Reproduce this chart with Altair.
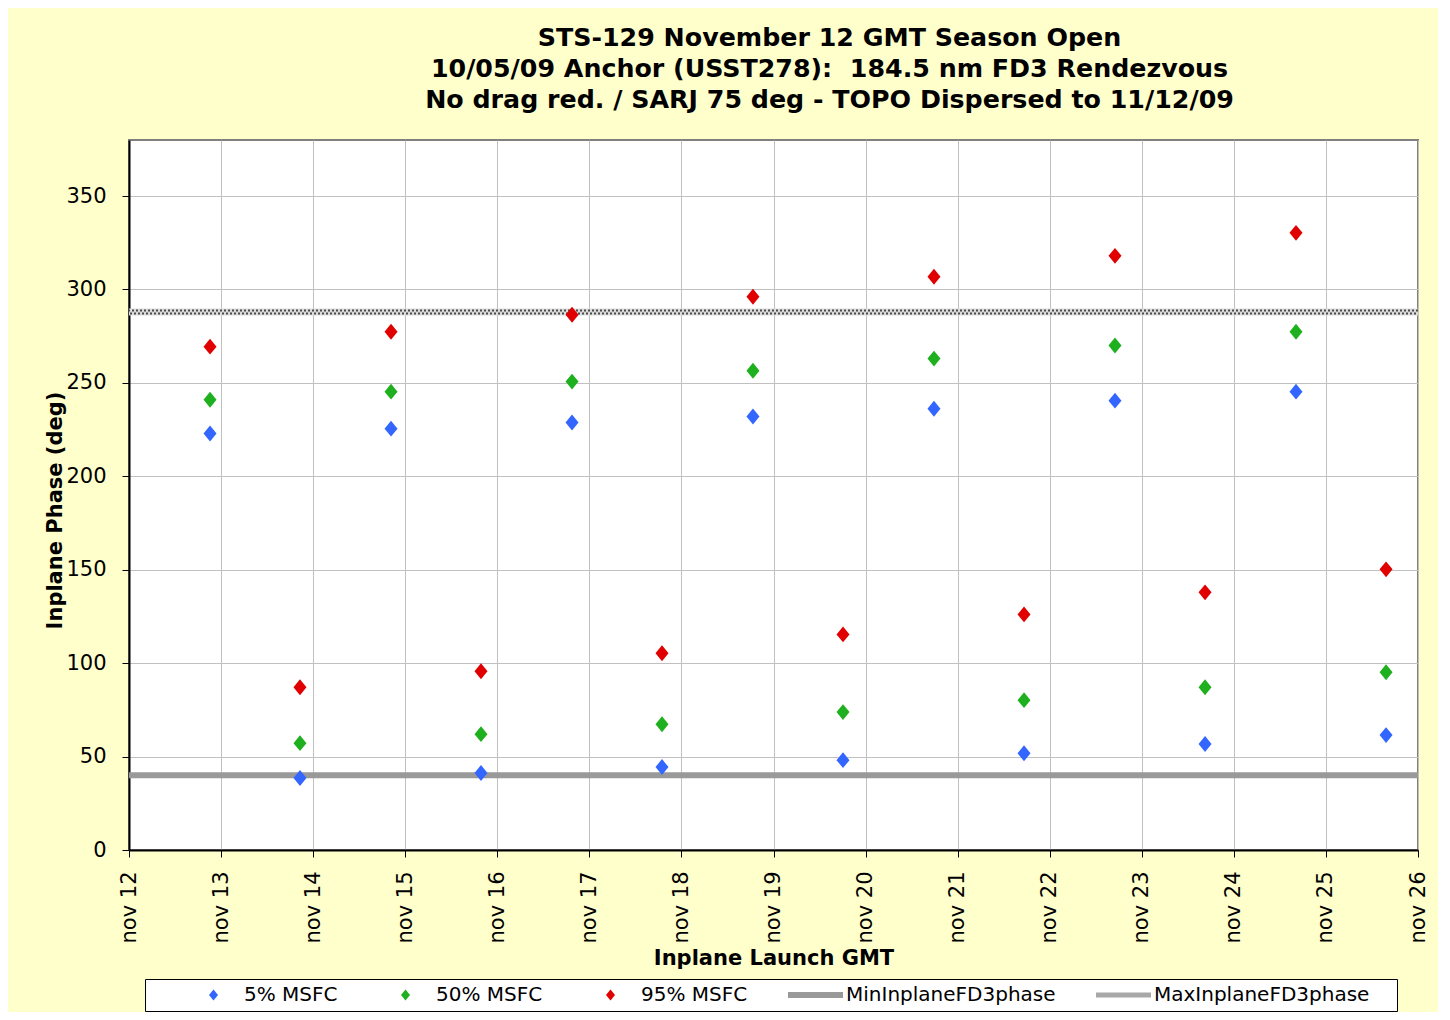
import altair as alt
import pandas as pd

# ---- data ----
launch_day = [12.88, 13.857, 14.846, 15.823, 16.812, 17.789, 18.777,
              19.755, 20.743, 21.721, 22.709, 23.687, 24.675, 25.653]
p5 = [222.9, 38.5, 225.5, 41.2, 228.8, 44.4, 232.0, 48.1, 236.2, 51.8,
      240.5, 56.7, 245.3, 61.5]
p50 = [241.0, 57.2, 245.3, 62.0, 250.7, 67.3, 256.5, 73.8, 263.0, 80.2,
       270.0, 87.1, 277.4, 95.1]
p95 = [269.4, 87.1, 277.4, 95.7, 286.5, 105.3, 296.1, 115.4, 306.8, 126.1,
       318.0, 137.9, 330.3, 150.2]
min_phase = 40
max_phase = 288

series_names = ["5% MSFC", "50% MSFC", "95% MSFC",
                "MinInplaneFD3phase", "MaxInplaneFD3phase"]
series_colors = ["#3366FF", "#1FB01F", "#E00000", "#999999", "#A8A8A8"]
DIAMOND = "M-0.45,0L0,-0.55L0.45,0L0,0.55Z"
series_shapes = [
    DIAMOND, DIAMOND, DIAMOND,
    "M-2.75,-0.3L2.75,-0.3L2.75,0.3L-2.75,0.3Z",
    "M-2.75,-0.25L2.75,-0.25L2.75,0.25L-2.75,0.25Z",
]
x_ticks = list(range(12, 27))
y_ticks = [0, 50, 100, 150, 200, 250, 300, 350]

title_lines = ["STS-129 November 12 GMT Season Open",
               "10/05/09 Anchor (USST278): \u00a0184.5 nm FD3 Rendezvous",
               "No drag red. / SARJ 75 deg - TOPO Dispersed to 11/12/09"]

rows = []
for name, vals in zip(series_names[:3], [p5, p50, p95]):
    for d, v in zip(launch_day, vals):
        rows.append({"day": d, "phase": v, "series": name})
pts = pd.DataFrame(rows)
lines = pd.DataFrame({"phase": [min_phase, max_phase],
                      "series": ["MinInplaneFD3phase", "MaxInplaneFD3phase"]})

FONT = "DejaVu Sans"

xenc = alt.X("day:Q",
             scale=alt.Scale(domain=[12, 26], nice=False, zero=False),
             axis=alt.Axis(values=x_ticks, labelExpr="'nov ' + datum.value",
                           labelAngle=-90, labelFontSize=21, labelFont=FONT,
                           labelPadding=14, tickSize=7, tickColor="black",
                           domainColor="black", domainWidth=2,
                           gridColor="#c0c0c0", title="Inplane Launch GMT",
                           titleFont=FONT, titleFontSize=21, titleFontWeight="bold",
                           titlePadding=5, titleColor="black", labelColor="black",
                           labelFlush=False, labelOverlap=False))
yenc = alt.Y("phase:Q",
             scale=alt.Scale(domain=[0, 380], nice=False),
             axis=alt.Axis(values=y_ticks, labelFontSize=21, labelFont=FONT,
                           labelPadding=16, tickSize=7, tickColor="black",
                           domainColor="black", domainWidth=2,
                           gridColor="#c0c0c0", title="Inplane Phase (deg)",
                           titleFont=FONT, titleFontSize=21, titleFontWeight="bold",
                           titleColor="black", labelColor="black",
                           titleX=-74, titleY=370, titleBaseline="middle",
                           titleAlign="center", labelFlush=False))

legend = alt.Legend(orient="none", legendX=16, legendY=839,
                    direction="horizontal", title="\u00a0", titleOrient="left",
                    titleFontSize=8, titlePadding=35,
                    labelFont=FONT, labelFontSize=20, labelColor="black",
                    labelOffset=20.5, symbolOffset=17.5, columnPadding=40,
                    symbolSize=400, symbolStrokeWidth=0, padding=6,
                    fillColor="white", strokeColor="black", labelLimit=500,
                    labelExpr="datum.label == 'MaxInplaneFD3phase' ? datum.label + '\u00a0\u2800' : datum.label")

points = alt.Chart(pts).mark_point(filled=True, opacity=1, size=835, strokeWidth=0).encode(
    x=xenc,
    y=yenc,
    color=alt.Color("series:N",
                    scale=alt.Scale(domain=series_names, range=series_colors),
                    legend=legend),
    shape=alt.Shape("series:N",
                    scale=alt.Scale(domain=series_names, range=series_shapes),
                    legend=legend),
)

min_rule = alt.Chart(lines).transform_filter(
    alt.datum.series == "MinInplaneFD3phase"
).mark_rule(color="#999999", strokeWidth=6).encode(y=alt.Y("phase:Q"))

max_base = alt.Chart(lines).transform_filter(
    alt.datum.series == "MaxInplaneFD3phase"
).encode(y=alt.Y("phase:Q"))
max_rule_bg = max_base.mark_rule(color="#dcdcdc", strokeWidth=7)
max_rule_a = max_base.mark_rule(color="#4a4a4a", strokeWidth=2, yOffset=-1.5,
                                strokeDash=[2, 2])
max_rule_b = max_base.mark_rule(color="#4a4a4a", strokeWidth=2, yOffset=1.5,
                                strokeDash=[2, 2], strokeDashOffset=2)

chart = alt.layer(min_rule, max_rule_bg, max_rule_a, max_rule_b, points).properties(
    width=1289, height=710,
    title=alt.TitleParams(title_lines, font=FONT, fontSize=25.3, fontWeight="bold",
                          color="black", anchor="middle", dx=56, offset=27,
                          lineHeight=31),
    autosize=alt.AutoSizeParams(type="none"),
    padding={"left": 121, "top": 132, "right": 20, "bottom": 162},
    background="#FFFFCC",
).configure_view(stroke="#808080", strokeWidth=2, fill="white")

chart.save("out.html", embed_options={"renderer": "svg", "actions": False})
